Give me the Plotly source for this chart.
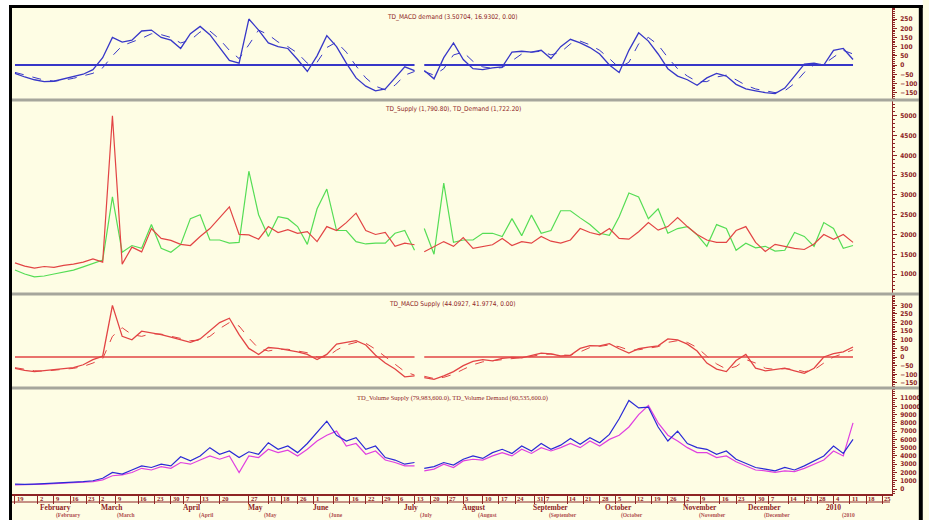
import plotly.graph_objects as go

# ---------------- calendar / axis data ----------------
week_labels = ["19", "2", "9", "16", "23", "2", "9", "16", "23", "30", "7", "13", "20", "27",
               "11", "18", "26", "1", "8", "16", "22", "29", "6", "13", "20", "27",
               "3", "10", "17", "24", "31", "7", "14", "21", "28", "5", "12", "19", "26",
               "2", "9", "16", "23", "30", "7", "14", "21", "28", "4", "11", "18", "25"]
week_sessions = [7, 5, 5, 5, 4, 5, 7, 5, 5, 4, 5, 6, 9, 6, 4, 5, 5, 6, 5, 5, 5, 5, 5, 5, 5,
                 5, 6, 5, 5, 6, 3, 7, 5, 5, 5, 6, 5, 5, 5, 5, 6, 5, 6, 4, 6, 5, 4, 5, 5, 5, 5, 5]
month_names = ["February", "March", "April", "May", "June", "July", "August",
               "September", "October", "November", "December", "2010"]
month_start = [7, 26, 51, 71, 91, 119, 137, 159, 181, 205, 225, 249]

# sample sessions (every 3rd session, one missing week in July)
days = list(range(0, 124, 3)) + [124.5] + list(range(126, 259, 3))

def join(a, b):
    return a + [None] + b

# ---------------- panel 1 : TD_MACD demand ----------------
macd_dem = join(
    [-45, -65, -80, -90, -88, -75, -62, -50, -25, 40, 150, 125, 135, 185, 190, 150, 135, 90, 170, 210,
     165, 95, 25, 10, 250, 190, 120, 100, 90, 30, -35, 50, 160, 100, 10, -70, -115, -140, -130, -70, -10, -30],
    [-30, -75, 40, 120, 30, -20, -25, -15, -10, 70, 75, 70, 80, 35, 100, 140, 120, 95, 60, 0,
     -40, 80, 175, 130, 60, -20, -60, -80, -110, -70, -45, -60, -105, -130, -140, -150, -155, -125, -60, 5,
     10, 0, 80, 90, 30])
sig_dem = join(
    [-40, -55, -70, -82, -87, -82, -72, -60, -45, -15, 50, 105, 125, 145, 170, 165, 150, 120, 135, 180,
     185, 140, 80, 35, 110, 190, 165, 125, 100, 65, 10, 15, 95, 125, 70, -5, -70, -115, -135, -110, -55, -35],
    [-35, -55, -20, 55, 70, 20, -10, -18, -14, 25, 60, 70, 75, 55, 70, 115, 130, 110, 80, 35,
     -15, 15, 115, 150, 110, 40, -20, -60, -90, -90, -65, -55, -80, -110, -130, -140, -150, -140, -100, -40,
     0, 5, 45, 80, 60])

# ---------------- panel 2 : TD_Supply / TD_Demand ----------------
supply = join(
    [1280, 1200, 1150, 1190, 1170, 1220, 1250, 1300, 1380, 1300, 5000, 1250, 1680, 1560, 2150, 1900, 1850,
     1750, 1720, 1950, 2150, 2420, 2700, 2000, 1990, 1880, 2200, 2050, 2120, 2030, 2070, 1820, 2200, 2100,
     2300, 2540, 2100, 2000, 2050, 1700, 1780, 1740],
    [1565, 1700, 1820, 1700, 1920, 1650, 1690, 1740, 1900, 1720, 1820, 1780, 1950, 1830, 1780, 1860, 2150,
     2050, 1990, 2150, 1900, 1880, 2070, 2300, 2110, 2200, 2430, 2200, 2000, 1860, 1800, 1800, 2100, 2200,
     1800, 1570, 1750, 1700, 1650, 1620, 1760, 2000, 1880, 2000, 1800])
demand = join(
    [1100, 1000, 930, 950, 1000, 1050, 1100, 1180, 1260, 1350, 2950, 1550, 1720, 1650, 2250, 1650, 1550,
     1740, 2400, 2500, 1860, 1860, 1780, 1800, 3600, 2500, 1950, 2450, 2400, 2200, 1750, 2650, 3150, 2100,
     2100, 1820, 1760, 1780, 1780, 2030, 2100, 1600],
    [2150, 1500, 3300, 1800, 1860, 1860, 2030, 2030, 1950, 2400, 1970, 2490, 2030, 2100, 2600, 2600, 2420,
     2250, 2030, 1980, 2450, 3050, 2950, 2400, 2650, 2030, 2150, 2200, 1990, 1700, 2250, 2150, 1600, 1780,
     1660, 1700, 1580, 1600, 2050, 1950, 1700, 2300, 2150, 1650, 1720])

# ---------------- panel 3 : TD_MACD Supply ----------------
macd_sup = join(
    [-66, -78, -85, -80, -74, -70, -62, -45, -15, 5, 300, 120, 100, 150, 140, 130, 115, 100, 85, 105,
     150, 200, 225, 130, 50, 15, 55, 50, 40, 30, 15, -15, 15, 75, 85, 95, 70, 10, -35, -70, -115, -110],
    [-120, -130, -110, -85, -50, -25, -15, -22, -8, -2, -5, 10, 23, 18, 6, 10, 50, 66, 65, 78,
     48, 23, 48, 58, 65, 105, 100, 75, 35, -35, -70, -85, -20, 15, -65, -80, -74, -65, -80, -95,
     -65, 0, 20, 30, 58])
sig_sup = join(
    [-62, -72, -80, -82, -78, -73, -66, -55, -35, -10, 120, 170, 130, 120, 135, 133, 122, 108, 95, 98,
     120, 165, 200, 180, 110, 50, 35, 45, 45, 36, 25, 0, 0, 40, 70, 85, 80, 45, 0, -40, -85, -105],
    [-112, -125, -118, -100, -72, -45, -28, -22, -15, -8, -6, 3, 15, 17, 12, 10, 30, 55, 62, 70,
     60, 40, 42, 52, 60, 85, 95, 85, 55, 5, -40, -70, -55, -15, -35, -65, -72, -68, -72, -85,
     -75, -35, 0, 20, 42])

# ---------------- panel 4 : TD_Volume ----------------
vol_dem = join(
    [600, 550, 600, 650, 700, 750, 800, 900, 1000, 1300, 2000, 1800, 2300, 2800, 2600, 3000, 2800, 3900,
     3400, 4000, 5000, 4200, 4600, 3800, 4500, 4200, 5600, 4800, 5200, 4400, 5500, 6800, 8200, 6500, 5800,
     6200, 4800, 5200, 3800, 3500, 3000, 3200],
    [2500, 2700, 3200, 2900, 3600, 4000, 3700, 4400, 4800, 4300, 5200, 4600, 5500, 4800, 5300, 6100, 5400,
     6200, 5600, 6600, 8500, 10700, 9800, 9900, 7500, 5800, 7000, 5500, 5000, 4800, 4200, 4600, 3600, 3100,
     2600, 2400, 2200, 2600, 2300, 2800, 3400, 4000, 5200, 4300, 6000])
vol_sup = join(
    [500, 500, 550, 600, 650, 700, 750, 850, 900, 1100, 1600, 1700, 2000, 2500, 2300, 2700, 2500, 3200,
     3000, 3500, 4000, 3600, 4000, 2000, 4000, 3800, 4800, 4400, 4700, 4000, 4800, 5800, 6500, 7000, 5200,
     5500, 4200, 4600, 3500, 3200, 2800, 2800],
    [2200, 2400, 3000, 2600, 3400, 3600, 3500, 4000, 4400, 4000, 4800, 4300, 5000, 4600, 5000, 5500, 5000,
     5800, 5200, 6000, 6500, 7500, 9000, 10100, 8000, 6500, 5800, 5000, 4400, 4400, 3800, 4000, 3300, 2800,
     2300, 2200, 2000, 2200, 2100, 2500, 3000, 3500, 4600, 4000, 8000])

titles = ["TD_MACD demand (3.50704, 16.9302, 0.00)",
          "TD_Supply (1,790.80), TD_Demand (1,722.20)",
          "TD_MACD Supply (44.0927, 41.9774, 0.00)",
          "TD_Volume Supply (79,983,600.0), TD_Volume Demand (60,535,600.0)"]

# ---------------- styling / layout ----------------
W, H = 929, 520
ML, MR, MT, MB = 12, 31, 8, 26
PW, PH = W - ML - MR, H - MT - MB
CREAM = "#FEFDE4"
DRED = "#8E2424"
SANS = "DejaVu Sans Condensed, Liberation Sans Narrow, Arial Narrow, DejaVu Sans, sans-serif"
SERIF = "Liberation Serif, Times New Roman, serif"

def yp(px):
    return (H - MB - px) / PH

def xp(px):
    return (px - ML) / PW

sep = [100, 294, 388]
doms = [[yp(sep[0]), 1.0], [yp(sep[1]), yp(sep[0])], [yp(sep[2]), yp(sep[1])], [0.0, yp(sep[2])]]

zero_dem = [0 if v is not None else None for v in macd_dem]
zero_sup = [0 if v is not None else None for v in macd_sup]

fig = go.Figure()
BLUE = "#3737C8"
RED = "#E24444"
GREEN = "#55DD55"
MAG = "#E040E0"
VBLUE = "#2A2AD6"

def line(y, ax, color, width=1.2, dash=None):
    fig.add_trace(go.Scatter(x=days, y=y, yaxis=ax, mode="lines",
                             line=dict(color=color, width=width, dash=dash),
                             connectgaps=False, hoverinfo="skip"))

line(zero_dem, "y", BLUE, 2)
line(sig_dem, "y", BLUE, 1, "dash")
line(macd_dem, "y", BLUE, 1.3)
line(demand, "y2", GREEN, 1.2)
line(supply, "y2", RED, 1.2)
line(zero_sup, "y3", RED, 1.6)
line(sig_sup, "y3", RED, 1, "dash")
line(macd_sup, "y3", RED, 1.3)
line(vol_sup, "y4", MAG, 1.2)
line(vol_dem, "y4", VBLUE, 1.2)

week_starts = [0]
for n in week_sessions:
    week_starts.append(week_starts[-1] + n)

fig.update_layout(
    width=W, height=H, margin=dict(l=ML, r=MR, t=MT, b=MB),
    paper_bgcolor=CREAM, plot_bgcolor=CREAM, showlegend=False,
    xaxis=dict(domain=[0, 1], range=[-0.92, 270], anchor="y4", tickvals=week_starts,
               ticks="outside", ticklen=8, tickcolor=DRED, tickwidth=1, showticklabels=False,
               showline=True, linecolor=DRED, linewidth=1.5, showgrid=False, zeroline=False),
)

axcfg = [
    (doms[0], [-190, 310], list(range(-150, 251, 50)), 10),
    (doms[1], [494, 5402], list(range(1000, 5001, 500)), 100),
    (doms[2], [-180, 366], list(range(-150, 301, 50)), 10),
    (doms[3], [-605, 12213], list(range(0, 11001, 1000)), 250),
]
for i, (dom, rng, tv, mdt) in enumerate(axcfg):
    name = "yaxis" if i == 0 else f"yaxis{i + 1}"
    fig.update_layout({name: dict(
        domain=dom, range=rng, anchor="x", side="right", tickvals=tv, tickformat="d",
        ticks="outside", ticklen=4, tickcolor=DRED, showline=True, linecolor=DRED, linewidth=1,
        showgrid=False, zeroline=False, ticklabelstandoff=2,
        tickfont=dict(family=SANS, size=6.5, color=DRED, weight="bold"),
        minor=dict(dtick=mdt, ticks="outside", ticklen=2, tickcolor=DRED, showgrid=False))})

shapes = []
# panel separators
for s in sep:
    shapes.append(dict(type="line", xref="paper", yref="paper", x0=xp(ML), x1=xp(925),
                       y0=yp(s), y1=yp(s), line=dict(color="#A6A69C", width=3)))
# date strip line
shapes.append(dict(type="line", xref="paper", yref="paper", x0=0, x1=xp(896),
                   y0=yp(502), y1=yp(502), line=dict(color=DRED, width=1)))
# white outside area and black frame
shapes.append(dict(type="rect", xref="paper", yref="paper", x0=xp(0), x1=xp(9), y0=yp(H), y1=yp(0),
                   fillcolor="white", line=dict(width=0)))
shapes.append(dict(type="rect", xref="paper", yref="paper", x0=xp(0), x1=xp(W), y0=yp(5), y1=yp(0),
                   fillcolor="white", line=dict(width=0)))
shapes.append(dict(type="rect", xref="paper", yref="paper", x0=xp(9), x1=xp(12), y0=yp(H), y1=yp(5),
                   fillcolor="black", line=dict(width=0)))
shapes.append(dict(type="rect", xref="paper", yref="paper", x0=xp(9), x1=xp(W), y0=yp(8), y1=yp(5),
                   fillcolor="black", line=dict(width=0)))
shapes.append(dict(type="rect", xref="paper", yref="paper", x0=xp(925), x1=xp(W), y0=yp(H), y1=yp(5),
                   fillcolor="black", line=dict(width=0)))

ann = []
title_y = [17, 109, 304, 398]
for t, ty in zip(titles, title_y):
    ann.append(dict(text=t, xref="paper", yref="paper", x=xp(456), y=yp(ty), showarrow=False,
                    xanchor="center", yanchor="middle",
                    font=dict(family=SANS if "Volume" not in t else SERIF, size=6.5, color=DRED)))
for lab, ws in zip(week_labels, week_starts):
    ann.append(dict(text=lab, x=ws, xref="x", yref="paper", y=yp(498), xanchor="left", yanchor="middle",
                    xshift=0, showarrow=False, font=dict(family=SERIF, size=6.5, color=DRED, weight="bold")))
for m, ms in zip(month_names, month_start):
    ann.append(dict(text=m, x=ms, xref="x", yref="paper", y=yp(507), xanchor="left", yanchor="middle",
                    showarrow=False, font=dict(family=SERIF, size=7.5, color=DRED, weight="bold")))
    ann.append(dict(text="(" + m, x=ms, xref="x", yref="paper", y=yp(515.5), xanchor="left",
                    yanchor="middle", xshift=16, showarrow=False,
                    font=dict(family=SERIF, size=5.5, color="#B05050", weight="bold")))

fig.update_layout(shapes=shapes, annotations=ann)
fig.write_html("out.html", config={"displayModeBar": False},
               post_script="document.body.style.margin='0px';")
